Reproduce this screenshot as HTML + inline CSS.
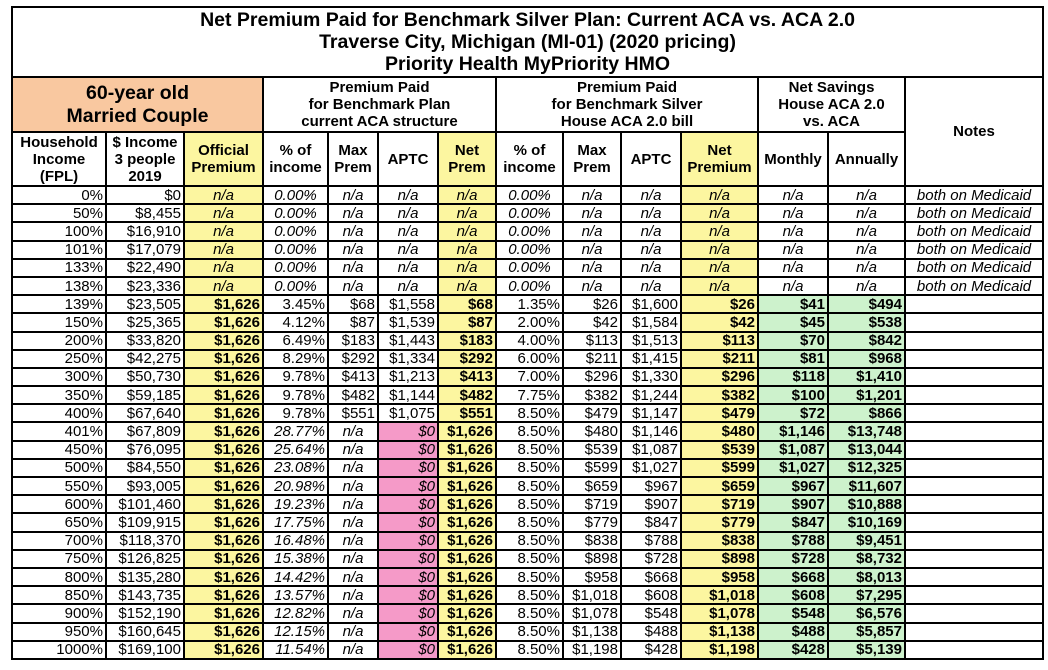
<!DOCTYPE html>
<html><head><meta charset="utf-8">
<style>
body{margin:0;background:#fff;width:1048px;height:670px;overflow:hidden;font-family:"Liberation Sans",Arial,sans-serif;}
table{position:absolute;left:11px;top:6px;border-collapse:collapse;table-layout:fixed;width:1033px;}
td{border:2px solid #000;padding:0 2px;font-size:15px;line-height:15px;white-space:nowrap;overflow:hidden;text-align:right;}
tr.d td{height:16.2px;}
.t{text-align:center;font-weight:bold;font-size:19.5px;line-height:22px;height:68px;}
.h{text-align:center;font-weight:bold;font-size:15px;line-height:17px;}
.o{background:#f9c8a0;font-size:19.5px;line-height:23px;}
.y{background:#fcf6a0;}
.g{background:#cdf2cc;font-weight:bold;}
.p{background:#f59ac8;font-style:italic;}
.b{font-weight:bold;}
.i{font-style:italic;}
.c{text-align:center;}
</style></head><body>
<table>
<colgroup><col style="width:94px"><col style="width:78px"><col style="width:79px"><col style="width:65px"><col style="width:50px"><col style="width:60px"><col style="width:58px"><col style="width:67px"><col style="width:58px"><col style="width:60px"><col style="width:77px"><col style="width:70px"><col style="width:77px"><col style="width:138px"></colgroup>
<tr><td colspan="14" class="t">Net Premium Paid for Benchmark Silver Plan: Current ACA vs. ACA 2.0<br>Traverse City, Michigan (MI-01) (2020 pricing)<br>Priority Health MyPriority HMO</td></tr>
<tr style="height:55px"><td colspan="3" class="h o">60-year old<br>Married Couple</td><td colspan="4" class="h">Premium Paid<br>for Benchmark Plan<br>current ACA structure</td><td colspan="4" class="h">Premium Paid<br>for Benchmark Silver<br>House ACA 2.0 bill</td><td colspan="2" class="h">Net Savings<br>House ACA 2.0<br>vs. ACA</td><td rowspan="2" class="h">Notes</td></tr>
<tr style="height:54px"><td class="h">Household<br>Income<br>(FPL)</td><td class="h">$ Income<br>3 people<br>2019</td><td class="h y">Official<br>Premium</td><td class="h">% of<br>income</td><td class="h">Max<br>Prem</td><td class="h">APTC</td><td class="h y">Net<br>Prem</td><td class="h">% of<br>income</td><td class="h">Max<br>Prem</td><td class="h">APTC</td><td class="h y">Net<br>Premium</td><td class="h">Monthly</td><td class="h">Annually</td></tr>
<tr class="d"><td>0%</td><td>$0</td><td class="y i c">n/a</td><td class="i c">0.00%</td><td class="i c">n/a</td><td class="i c">n/a</td><td class="y i c">n/a</td><td class="i c">0.00%</td><td class="i c">n/a</td><td class="i c">n/a</td><td class="y i c">n/a</td><td class="i c">n/a</td><td class="i c">n/a</td><td class="i c">both on Medicaid</td></tr>
<tr class="d"><td>50%</td><td>$8,455</td><td class="y i c">n/a</td><td class="i c">0.00%</td><td class="i c">n/a</td><td class="i c">n/a</td><td class="y i c">n/a</td><td class="i c">0.00%</td><td class="i c">n/a</td><td class="i c">n/a</td><td class="y i c">n/a</td><td class="i c">n/a</td><td class="i c">n/a</td><td class="i c">both on Medicaid</td></tr>
<tr class="d"><td>100%</td><td>$16,910</td><td class="y i c">n/a</td><td class="i c">0.00%</td><td class="i c">n/a</td><td class="i c">n/a</td><td class="y i c">n/a</td><td class="i c">0.00%</td><td class="i c">n/a</td><td class="i c">n/a</td><td class="y i c">n/a</td><td class="i c">n/a</td><td class="i c">n/a</td><td class="i c">both on Medicaid</td></tr>
<tr class="d"><td>101%</td><td>$17,079</td><td class="y i c">n/a</td><td class="i c">0.00%</td><td class="i c">n/a</td><td class="i c">n/a</td><td class="y i c">n/a</td><td class="i c">0.00%</td><td class="i c">n/a</td><td class="i c">n/a</td><td class="y i c">n/a</td><td class="i c">n/a</td><td class="i c">n/a</td><td class="i c">both on Medicaid</td></tr>
<tr class="d"><td>133%</td><td>$22,490</td><td class="y i c">n/a</td><td class="i c">0.00%</td><td class="i c">n/a</td><td class="i c">n/a</td><td class="y i c">n/a</td><td class="i c">0.00%</td><td class="i c">n/a</td><td class="i c">n/a</td><td class="y i c">n/a</td><td class="i c">n/a</td><td class="i c">n/a</td><td class="i c">both on Medicaid</td></tr>
<tr class="d"><td>138%</td><td>$23,336</td><td class="y i c">n/a</td><td class="i c">0.00%</td><td class="i c">n/a</td><td class="i c">n/a</td><td class="y i c">n/a</td><td class="i c">0.00%</td><td class="i c">n/a</td><td class="i c">n/a</td><td class="y i c">n/a</td><td class="i c">n/a</td><td class="i c">n/a</td><td class="i c">both on Medicaid</td></tr>
<tr class="d"><td>139%</td><td>$23,505</td><td class="y b">$1,626</td><td>3.45%</td><td>$68</td><td>$1,558</td><td class="y b">$68</td><td>1.35%</td><td>$26</td><td>$1,600</td><td class="y b">$26</td><td class="g">$41</td><td class="g">$494</td><td></td></tr>
<tr class="d"><td>150%</td><td>$25,365</td><td class="y b">$1,626</td><td>4.12%</td><td>$87</td><td>$1,539</td><td class="y b">$87</td><td>2.00%</td><td>$42</td><td>$1,584</td><td class="y b">$42</td><td class="g">$45</td><td class="g">$538</td><td></td></tr>
<tr class="d"><td>200%</td><td>$33,820</td><td class="y b">$1,626</td><td>6.49%</td><td>$183</td><td>$1,443</td><td class="y b">$183</td><td>4.00%</td><td>$113</td><td>$1,513</td><td class="y b">$113</td><td class="g">$70</td><td class="g">$842</td><td></td></tr>
<tr class="d"><td>250%</td><td>$42,275</td><td class="y b">$1,626</td><td>8.29%</td><td>$292</td><td>$1,334</td><td class="y b">$292</td><td>6.00%</td><td>$211</td><td>$1,415</td><td class="y b">$211</td><td class="g">$81</td><td class="g">$968</td><td></td></tr>
<tr class="d"><td>300%</td><td>$50,730</td><td class="y b">$1,626</td><td>9.78%</td><td>$413</td><td>$1,213</td><td class="y b">$413</td><td>7.00%</td><td>$296</td><td>$1,330</td><td class="y b">$296</td><td class="g">$118</td><td class="g">$1,410</td><td></td></tr>
<tr class="d"><td>350%</td><td>$59,185</td><td class="y b">$1,626</td><td>9.78%</td><td>$482</td><td>$1,144</td><td class="y b">$482</td><td>7.75%</td><td>$382</td><td>$1,244</td><td class="y b">$382</td><td class="g">$100</td><td class="g">$1,201</td><td></td></tr>
<tr class="d"><td>400%</td><td>$67,640</td><td class="y b">$1,626</td><td>9.78%</td><td>$551</td><td>$1,075</td><td class="y b">$551</td><td>8.50%</td><td>$479</td><td>$1,147</td><td class="y b">$479</td><td class="g">$72</td><td class="g">$866</td><td></td></tr>
<tr class="d"><td>401%</td><td>$67,809</td><td class="y b">$1,626</td><td class="i">28.77%</td><td class="i c">n/a</td><td class="p">$0</td><td class="y b">$1,626</td><td>8.50%</td><td>$480</td><td>$1,146</td><td class="y b">$480</td><td class="g">$1,146</td><td class="g">$13,748</td><td></td></tr>
<tr class="d"><td>450%</td><td>$76,095</td><td class="y b">$1,626</td><td class="i">25.64%</td><td class="i c">n/a</td><td class="p">$0</td><td class="y b">$1,626</td><td>8.50%</td><td>$539</td><td>$1,087</td><td class="y b">$539</td><td class="g">$1,087</td><td class="g">$13,044</td><td></td></tr>
<tr class="d"><td>500%</td><td>$84,550</td><td class="y b">$1,626</td><td class="i">23.08%</td><td class="i c">n/a</td><td class="p">$0</td><td class="y b">$1,626</td><td>8.50%</td><td>$599</td><td>$1,027</td><td class="y b">$599</td><td class="g">$1,027</td><td class="g">$12,325</td><td></td></tr>
<tr class="d"><td>550%</td><td>$93,005</td><td class="y b">$1,626</td><td class="i">20.98%</td><td class="i c">n/a</td><td class="p">$0</td><td class="y b">$1,626</td><td>8.50%</td><td>$659</td><td>$967</td><td class="y b">$659</td><td class="g">$967</td><td class="g">$11,607</td><td></td></tr>
<tr class="d"><td>600%</td><td>$101,460</td><td class="y b">$1,626</td><td class="i">19.23%</td><td class="i c">n/a</td><td class="p">$0</td><td class="y b">$1,626</td><td>8.50%</td><td>$719</td><td>$907</td><td class="y b">$719</td><td class="g">$907</td><td class="g">$10,888</td><td></td></tr>
<tr class="d"><td>650%</td><td>$109,915</td><td class="y b">$1,626</td><td class="i">17.75%</td><td class="i c">n/a</td><td class="p">$0</td><td class="y b">$1,626</td><td>8.50%</td><td>$779</td><td>$847</td><td class="y b">$779</td><td class="g">$847</td><td class="g">$10,169</td><td></td></tr>
<tr class="d"><td>700%</td><td>$118,370</td><td class="y b">$1,626</td><td class="i">16.48%</td><td class="i c">n/a</td><td class="p">$0</td><td class="y b">$1,626</td><td>8.50%</td><td>$838</td><td>$788</td><td class="y b">$838</td><td class="g">$788</td><td class="g">$9,451</td><td></td></tr>
<tr class="d"><td>750%</td><td>$126,825</td><td class="y b">$1,626</td><td class="i">15.38%</td><td class="i c">n/a</td><td class="p">$0</td><td class="y b">$1,626</td><td>8.50%</td><td>$898</td><td>$728</td><td class="y b">$898</td><td class="g">$728</td><td class="g">$8,732</td><td></td></tr>
<tr class="d"><td>800%</td><td>$135,280</td><td class="y b">$1,626</td><td class="i">14.42%</td><td class="i c">n/a</td><td class="p">$0</td><td class="y b">$1,626</td><td>8.50%</td><td>$958</td><td>$668</td><td class="y b">$958</td><td class="g">$668</td><td class="g">$8,013</td><td></td></tr>
<tr class="d"><td>850%</td><td>$143,735</td><td class="y b">$1,626</td><td class="i">13.57%</td><td class="i c">n/a</td><td class="p">$0</td><td class="y b">$1,626</td><td>8.50%</td><td>$1,018</td><td>$608</td><td class="y b">$1,018</td><td class="g">$608</td><td class="g">$7,295</td><td></td></tr>
<tr class="d"><td>900%</td><td>$152,190</td><td class="y b">$1,626</td><td class="i">12.82%</td><td class="i c">n/a</td><td class="p">$0</td><td class="y b">$1,626</td><td>8.50%</td><td>$1,078</td><td>$548</td><td class="y b">$1,078</td><td class="g">$548</td><td class="g">$6,576</td><td></td></tr>
<tr class="d"><td>950%</td><td>$160,645</td><td class="y b">$1,626</td><td class="i">12.15%</td><td class="i c">n/a</td><td class="p">$0</td><td class="y b">$1,626</td><td>8.50%</td><td>$1,138</td><td>$488</td><td class="y b">$1,138</td><td class="g">$488</td><td class="g">$5,857</td><td></td></tr>
<tr class="d"><td>1000%</td><td>$169,100</td><td class="y b">$1,626</td><td class="i">11.54%</td><td class="i c">n/a</td><td class="p">$0</td><td class="y b">$1,626</td><td>8.50%</td><td>$1,198</td><td>$428</td><td class="y b">$1,198</td><td class="g">$428</td><td class="g">$5,139</td><td></td></tr>
</table>
</body></html>
